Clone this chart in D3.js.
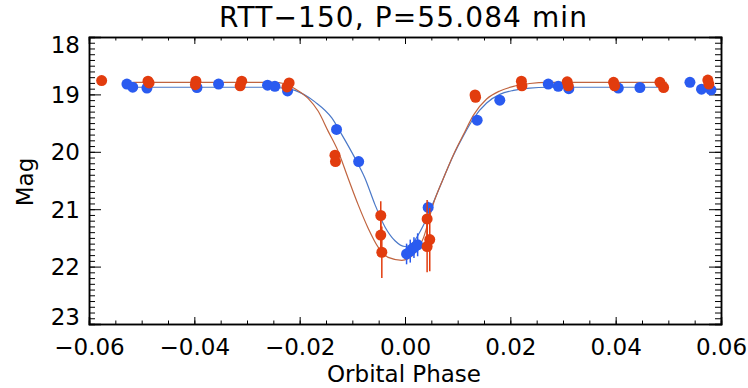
<!DOCTYPE html>
<html>
<head>
<meta charset="utf-8">
<script src="https://cdn.jsdelivr.net/npm/d3@7"></script>
<style>
  body { margin: 0; background: #fff; }
  svg { display: block; }
  text { font-family: "DejaVu Sans", sans-serif; fill: #000; }
</style>
</head>
<body>
<svg id="chart" width="748" height="388"></svg>
<script>
// red light curve (phase, mag, error)
var redPhase = [-0.0576, -0.0488, -0.0486, -0.0397, -0.0398, -0.0310, -0.0313, -0.0220, -0.0224,
  -0.0133, -0.0132, -0.0046, -0.0046, -0.0044, 0.0042, 0.0047, 0.0042,
  0.0133, 0.0134, 0.0221, 0.0222, 0.0308, 0.0310, 0.0396, 0.0398, 0.0484, 0.0491, 0.0575, 0.0577];
var redMag = [18.76, 18.77, 18.80, 18.77, 18.83, 18.77, 18.85, 18.80, 18.87,
  20.06, 20.17, 21.11, 21.45, 21.75, 21.17, 21.53, 21.65,
  19.01, 19.05, 18.77, 18.85, 18.78, 18.85, 18.79, 18.85, 18.79, 18.88, 18.75, 18.82];
var redErr = [0.03, 0.03, 0.03, 0.03, 0.03, 0.03, 0.03, 0.03, 0.03,
  0.05, 0.05, 0.25, 0.30, 0.45, 0.33, 0.55, 0.45,
  0.04, 0.04, 0.03, 0.03, 0.03, 0.03, 0.03, 0.03, 0.03, 0.03, 0.03, 0.03];

// blue light curve
var bluePhase = [-0.0528, -0.0517, -0.0490, -0.0395, -0.0354, -0.0261, -0.0247, -0.0223,
  -0.0130, -0.0088, 0.0003, 0.0010, 0.0017, 0.0024, 0.0044,
  0.0137, 0.0180, 0.0272, 0.0291, 0.0311, 0.0405, 0.0446, 0.0541, 0.0563, 0.0581];
var blueMag = [18.82, 18.875, 18.89, 18.88, 18.82, 18.84, 18.86, 18.94,
  19.61, 20.17, 21.78, 21.73, 21.67, 21.62, 20.97,
  19.45, 19.10, 18.82, 18.86, 18.90, 18.89, 18.88, 18.79, 18.91, 18.92];
var blueErr = [0.03, 0.03, 0.03, 0.03, 0.03, 0.03, 0.03, 0.03,
  0.04, 0.05, 0.18, 0.2, 0.18, 0.2, 0.1,
  0.04, 0.04, 0.03, 0.03, 0.03, 0.03, 0.03, 0.03, 0.03, 0.03];

// model curves
var redModelPhase = [-0.0516, -0.0250, -0.0230, -0.0209, -0.0184, -0.0165, -0.0146, -0.0127, -0.0108,
  -0.0089, -0.0070, -0.0051, -0.0032, -0.0006, 0.0016, 0.0035, 0.0054, 0.0073, 0.0092,
  0.0111, 0.0130, 0.0155, 0.0180, 0.0206, 0.0237, 0.0270, 0.0497];
var redModelMag = [18.79, 18.79, 18.81, 18.90, 19.07, 19.29, 19.64, 19.99, 20.46,
  20.92, 21.33, 21.66, 21.84, 21.89, 21.79, 21.50, 20.90, 20.46, 20.05,
  19.70, 19.36, 19.08, 18.94, 18.86, 18.81, 18.79, 18.79];
var blueModelPhase = [-0.0520, -0.0260, -0.0230, -0.0209, -0.0171, -0.0139, -0.0120, -0.0095, -0.0076,
  -0.0057, -0.0038, -0.0019, 0.0000, 0.0016, 0.0035, 0.0054, 0.0073, 0.0092,
  0.0111, 0.0130, 0.0155, 0.0180, 0.0206, 0.0237, 0.0270, 0.0490];
var blueModelMag = [18.875, 18.875, 18.89, 18.93, 19.13, 19.41, 19.70, 20.11, 20.46,
  20.92, 21.31, 21.55, 21.65, 21.57, 21.28, 20.88, 20.46, 20.06,
  19.72, 19.42, 19.15, 19.00, 18.93, 18.89, 18.875, 18.875];

var xTicks = [-0.06, -0.04, -0.02, 0.00, 0.02, 0.04, 0.06];
var yTicks = [18, 19, 20, 21, 22, 23];

var titleText = "RTT\u2212150, P=55.084 min";

var plotL = 89, plotR = 721, plotT = 37, plotB = 324;
var svg = d3.select("#chart");

var x = d3.scaleLinear().domain([-0.06, 0.06]).range([plotL, plotR]);
var y = d3.scaleLinear().domain([18, 23]).range([plotT, plotB]);

var xMinor = d3.range(-0.06, 0.0601, 0.005);
var yMinor = d3.range(18, 23.001, 0.1);

function styleAxis(g) {
  g.select(".domain").attr("stroke", "#000").attr("stroke-width", 1.5);
  g.selectAll(".tick line").attr("stroke", "#000").attr("stroke-width", 1);
  g.selectAll("text").style("font-size", "23px").attr("fill", "#000");
}

// minor ticks
svg.append("g").attr("transform", `translate(0,${plotB})`)
  .call(d3.axisBottom(x).tickValues(xMinor).tickSize(-3.5).tickFormat(""))
  .call(styleAxis);
svg.append("g").attr("transform", `translate(0,${plotT})`)
  .call(d3.axisTop(x).tickValues(xMinor).tickSize(-3.5).tickFormat(""))
  .call(styleAxis);
svg.append("g").attr("transform", `translate(${plotL},0)`)
  .call(d3.axisLeft(y).tickValues(yMinor).tickSize(-6).tickFormat(""))
  .call(styleAxis);
svg.append("g").attr("transform", `translate(${plotR},0)`)
  .call(d3.axisRight(y).tickValues(yMinor).tickSize(-6).tickFormat(""))
  .call(styleAxis);

// major ticks
svg.append("g").attr("transform", `translate(0,${plotB})`)
  .call(d3.axisBottom(x).tickValues(xTicks).tickSize(-7).tickPadding(15).tickFormat(d3.format(".2f")))
  .call(styleAxis);
svg.append("g").attr("transform", `translate(0,${plotT})`)
  .call(d3.axisTop(x).tickValues(xTicks).tickSize(-7).tickFormat(""))
  .call(styleAxis);
var yAx = svg.append("g").attr("transform", `translate(${plotL},0)`)
  .call(d3.axisLeft(y).tickValues(yTicks).tickSize(-12).tickPadding(9).tickFormat(d3.format("d")))
  .call(styleAxis);
yAx.selectAll(".tick text").attr("dy", d => d === 18 ? "0.66em" : d === 23 ? "0em" : "0.35em");
svg.append("g").attr("transform", `translate(${plotR},0)`)
  .call(d3.axisRight(y).tickValues(yTicks).tickSize(-12).tickFormat(""))
  .call(styleAxis);

// model curves
var line = d3.line().x(d => x(d[0])).y(d => y(d[1])).curve(d3.curveMonotoneX);
svg.append("path")
  .datum(d3.zip(blueModelPhase, blueModelMag))
  .attr("d", line).attr("fill", "none").attr("stroke", "#4a78c8").attr("stroke-width", 1.2);
svg.append("path")
  .datum(d3.zip(redModelPhase, redModelMag))
  .attr("d", line).attr("fill", "none").attr("stroke", "#c0643f").attr("stroke-width", 1.2);

function drawPoints(ph, mag, err, color) {
  var pts = d3.zip(ph, mag, err);
  var g = svg.append("g");
  g.selectAll("line").data(pts).join("line")
    .attr("x1", d => x(d[0])).attr("x2", d => x(d[0]))
    .attr("y1", d => y(d[1] - d[2])).attr("y2", d => y(d[1] + d[2]))
    .attr("stroke", color).attr("stroke-width", 1.5);
  g.selectAll("circle").data(pts).join("circle")
    .attr("cx", d => x(d[0])).attr("cy", d => y(d[1]))
    .attr("r", 5.5).attr("fill", color);
}
drawPoints(bluePhase, blueMag, blueErr, "#2a5bf0");
drawPoints(redPhase, redMag, redErr, "#e23c0e");

// titles
svg.append("text").attr("x", 403).attr("y", 27).attr("text-anchor", "middle")
  .attr("textLength", 368).attr("lengthAdjust", "spacing")
  .style("font-size", "28px").text(titleText);
svg.append("text").attr("x", 404).attr("y", 382).attr("text-anchor", "middle")
  .style("font-size", "23px").text("Orbital Phase");
svg.append("text").attr("transform", "translate(33,182) rotate(-90)")
  .attr("text-anchor", "middle").style("font-size", "23px").text("Mag");
</script>
</body>
</html>
